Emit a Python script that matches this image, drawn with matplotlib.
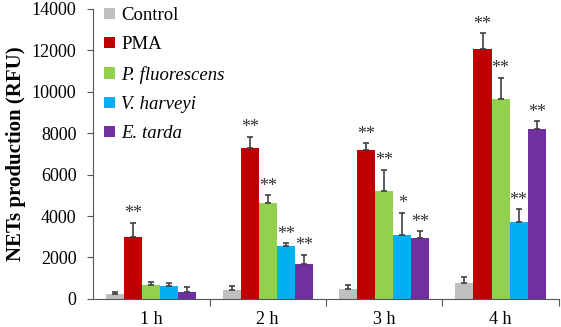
import numpy as np
import matplotlib
matplotlib.use('Agg')
import matplotlib.pyplot as plt

plt.rcParams['font.family'] = ['Liberation Serif', 'DejaVu Serif']

groups = ['1 h', '2 h', '3 h', '4 h']
labels = ['Control', 'PMA', 'P. fluorescens', 'V. harveyi', 'E. tarda']
colors = ['#BFBFBF', '#C00000', '#92D050', '#00B0F0', '#7030A0']

control = [250, 420, 500, 790]
pma = [3000, 7300, 7200, 12050]
pfluo = [650, 4650, 5200, 9670]
vharv = [600, 2560, 3060, 3690]
etarda = [350, 1660, 2960, 8200]

control_err = [100, 220, 160, 260]
pma_err = [680, 520, 320, 770]
pfluo_err = [170, 350, 1030, 1000]
vharv_err = [150, 130, 1100, 650]
etarda_err = [220, 480, 300, 380]

control_sig = ['', '', '', '']
pma_sig = ['**', '**', '**', '**']
pfluo_sig = ['', '**', '**', '**']
vharv_sig = ['', '**', '*', '**']
etarda_sig = ['', '**', '**', '**']

values = [control, pma, pfluo, vharv, etarda]
errors = [control_err, pma_err, pfluo_err, vharv_err, etarda_err]
sigs = [control_sig, pma_sig, pfluo_sig, vharv_sig, etarda_sig]

fig = plt.figure(figsize=(5.61, 3.27), dpi=100)
ax = fig.add_axes([0.166, 0.086, 0.830, 0.887])

x = np.arange(len(groups))
w = 0.155
for k in range(5):
    pos = x + (k - 2) * w
    ax.bar(pos, values[k], w, color=colors[k], label=labels[k], zorder=2)
    ax.errorbar(pos, values[k], yerr=[np.zeros(4), errors[k]], fmt='none',
                ecolor='#404040', elinewidth=1.2, capsize=2.5, capthick=1.2, zorder=3)
    for i in range(4):
        if sigs[k][i]:
            ax.text(pos[i], values[k][i] + errors[k][i] + 20, sigs[k][i],
                    ha='center', va='bottom', fontsize=13, color='#333333')

ax.set_xlim(-0.5, 3.5)
ax.set_ylim(0, 14000)
ax.set_yticks(np.arange(0, 14001, 2000))
ax.tick_params(axis='y', labelsize=13, direction='out', length=4, color='#555555', pad=8)
ax.set_xticks([0.5, 1.5, 2.5, 3.5])
ax.set_xticklabels([])
ax.set_xticks(x, minor=True)
ax.set_xticklabels(groups, minor=True)
ax.tick_params(axis='x', which='major', direction='out', length=5, color='#555555')
ax.tick_params(axis='x', which='minor', length=0, labelsize=13, pad=9)
for s in ['top', 'right']:
    ax.spines[s].set_visible(False)
for s in ['left', 'bottom']:
    ax.spines[s].set_color('#555555')

ax.set_ylabel('NETs production (RFU)', fontsize=15, fontweight='bold', labelpad=4)

handles, _ = ax.get_legend_handles_labels()
leg = ax.legend(handles, labels, loc='upper left', bbox_to_anchor=(0.0, 1.045),
                frameon=False, fontsize=13.5, handlelength=0.55, handleheight=0.55,
                handletextpad=0.35, labelspacing=0.66, borderaxespad=0.2)
for t in leg.get_texts()[2:]:
    t.set_fontstyle('italic')

fig.savefig('out.png', dpi=100)
